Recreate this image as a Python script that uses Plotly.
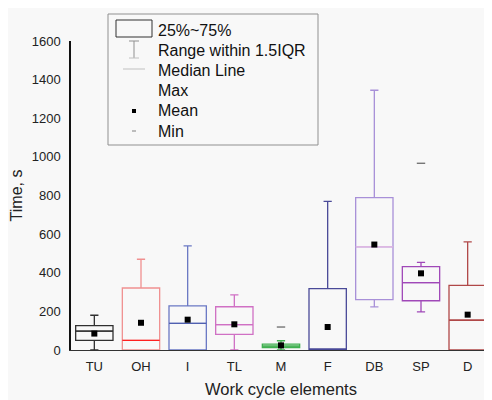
import plotly.graph_objects as go

categories = ["TU", "OH", "I", "TL", "M", "F", "DB", "SP", "D"]
q1 = [50, 0, 0, 81, 12, 0, 261, 255, 0]
median = [98, 50, 138, 131, 20, 0, 534, 349, 154]
q3 = [126, 321, 228, 224, 30, 318, 789, 432, 335]
lower = [0, 0, 0, 0, 0, 0, 223, 197, 0]
upper = [180, 470, 539, 285, 48, 770, 1345, 454, 560]
means = [85, 141, 157, 133, 24, 119, 546, 397, 183]
max_idx = [4, 7]
max_val = [119, 967]
colors = ["#303030", "#f09090", "#6a78c4", "#d070c4", "#40b050",
          "#4a4a98", "#a890d8", "#a048b8", "#b04848"]
median_colors = ["#303030", "#ff2020", "#5060b0", "#d070c4", "#40b050",
                 "#4a4a98", "#e8bce4", "#a048b8", "#b04848"]
yticks = [0, 200, 400, 600, 800, 1000, 1200, 1400, 1600]

xs = list(range(len(categories)))
half = 0.4

fig = go.Figure()
for i in xs:
    fill = "rgba(64,176,80,0.06)" if categories[i] == "M" else "rgba(0,0,0,0)"
    fig.add_trace(go.Box(
        x=[i], q1=[q1[i]], median=[median[i]], q3=[q3[i]],
        lowerfence=[lower[i]], upperfence=[upper[i]],
        fillcolor=fill, line=dict(color=colors[i], width=1.3),
        width=2 * half, whiskerwidth=0.22, boxpoints=False, showlegend=False,
        hoverinfo="skip"))
    fig.add_trace(go.Scatter(
        x=[i - half, i + half], y=[median[i], median[i]], mode="lines",
        line=dict(color=median_colors[i], width=1.3),
        showlegend=False, hoverinfo="skip"))

fig.add_trace(go.Scatter(x=xs, y=means, mode="markers",
                         marker=dict(symbol="square", size=6, color="black"),
                         showlegend=False))
fig.add_trace(go.Scatter(x=max_idx, y=max_val, mode="markers",
                         marker=dict(symbol="line-ew", size=6,
                                     line=dict(color="#606060", width=1.2)),
                         showlegend=False))

font = "Liberation Sans, Arial, sans-serif"

# helpers in page pixel coordinates (plot area spans x 71..491, y 41..350 on the page)
def px(x): return (x - 71) / 420
def py(y): return (350 - y) / 309

fig.add_shape(type="rect", xref="paper", yref="paper",
              x0=px(108), x1=px(318), y0=py(145), y1=py(14),
              line=dict(color="#909090", width=1), fillcolor="rgba(255,255,255,0)")
fig.add_shape(type="rect", xref="paper", yref="paper",
              x0=px(116), x1=px(152), y0=py(37), y1=py(20),
              line=dict(color="#303030", width=1))
fig.add_shape(type="line", xref="paper", yref="paper",
              x0=px(134), x1=px(134), y0=py(41), y1=py(58), line=dict(color="#909090", width=1))
fig.add_shape(type="line", xref="paper", yref="paper",
              x0=px(129), x1=px(139), y0=py(41), y1=py(41), line=dict(color="#909090", width=1))
fig.add_shape(type="line", xref="paper", yref="paper",
              x0=px(129), x1=px(139), y0=py(58), y1=py(58), line=dict(color="#c0c0c0", width=1))
fig.add_shape(type="line", xref="paper", yref="paper",
              x0=px(123), x1=px(145), y0=py(69), y1=py(69), line=dict(color="#c0c0c0", width=1))
fig.add_shape(type="rect", xref="paper", yref="paper",
              x0=px(132), x1=px(136), y0=py(113), y1=py(109),
              line=dict(width=0), fillcolor="black")
fig.add_shape(type="line", xref="paper", yref="paper",
              x0=px(132), x1=px(136), y0=py(131), y1=py(131), line=dict(color="#808080", width=1))
labels = ["25%~75%", "Range within 1.5IQR", "Median Line", "Max", "Mean", "Min"]
ys = [30, 50, 71, 91, 111, 131]
for t, yy in zip(labels, ys):
    fig.add_annotation(text=t, xref="paper", yref="paper", x=px(156), y=py(yy),
                       xanchor="left", yanchor="middle", showarrow=False,
                       font=dict(family=font, size=16, color="#111"))

fig.update_layout(
    width=492, height=400,
    margin=dict(l=63, r=9, t=33, b=58, autoexpand=False),
    paper_bgcolor="#f8f8f8", plot_bgcolor="#f8f8f8",
    font=dict(family=font, size=13, color="#222"),
    xaxis=dict(range=[-0.5, 8.5], tickvals=xs, ticktext=categories,
               showgrid=False, zeroline=False,
               showline=True, linecolor="#333", linewidth=1.3, ticks="",
               ticklabelstandoff=4,
               title=dict(text="Work cycle elements", font=dict(size=16.5), standoff=10)),
    yaxis=dict(range=[0, 1600], tickvals=yticks, showgrid=False, zeroline=False,
               showline=True, linecolor="#111", linewidth=1.5, ticks="",
               ticklabelstandoff=6,
               title=dict(text="Time, s", font=dict(size=16), standoff=6)),
)
fig.write_html("out.html")
